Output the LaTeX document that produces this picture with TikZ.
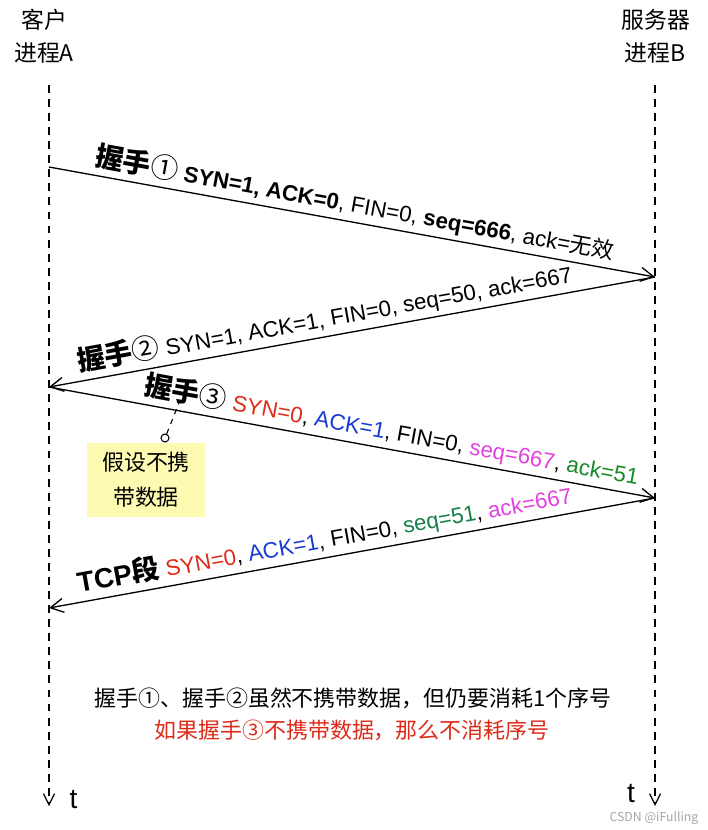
\documentclass[tikz,border=0pt]{standalone}
\usepackage{fontspec}
\setmainfont{Liberation Sans}
\newfontfamily\cjk{Noto Sans CJK SC}
\usetikzlibrary{positioning, arrows.meta}

\definecolor{synred}{RGB}{222,42,24}
\definecolor{ackblue}{RGB}{22,58,212}
\definecolor{seqpink}{RGB}{226,66,222}
\definecolor{ackgreen}{RGB}{22,138,34}
\definecolor{seqgreen}{RGB}{22,128,72}
\definecolor{notefill}{RGB}{253,250,178}

\newcommand{\hsfont}{\cjk\bfseries\fontsize{15.8}{18}\selectfont}
\newcommand{\numfont}{\cjk\mdseries\fontsize{15.8}{18}\selectfont}

\tikzset{
  lifeline/.style={line width=0.7pt, dash pattern=on 4.5pt off 3.5pt, -{Straight Barb[length=2.2mm, width=2.2mm]}},
  msg/.style={line width=0.75pt, -{Straight Barb[length=2.6mm, width=2.8mm]}},
  msglbl/.style={sloped, above, inner sep=2.5pt, font=\fontsize{12.7}{15}\selectfont},
  hdr/.style={font=\cjk\fontsize{13}{17}\selectfont, align=center, inner sep=1pt},
  note/.style={fill=notefill, minimum width=2.36cm, minimum height=1.48cm, align=center, font=\cjk\fontsize{12.5}{20}\selectfont},
}

\begin{document}
\begin{tikzpicture}
\useasboundingbox (0,0) rectangle (14.14,-16.6);

% headers
\node[hdr] (cli) at (0.88,-0.40) {客户};
\node[hdr] (cliP) at (0.88,-1.05) {进程A};
\node[hdr] (srv) at (13.12,-0.40) {服务器};
\node[hdr] (srvP) at (13.10,-1.05) {进程B};

% lifelines
\coordinate (Atop) at (0.98,-1.70);
\coordinate (Abot) at (0.98,-16.12);
\coordinate (Btop) at (13.10,-1.70);
\coordinate (Bbot) at (13.10,-16.12);
\draw[lifeline] (Atop) -- (Abot);
\draw[lifeline] (Btop) -- (Bbot);
\node[font=\fontsize{16}{18}\selectfont] (tA) at (1.47,-16.0) {t};
\node[font=\fontsize{16}{18}\selectfont] (tB) at (12.62,-15.88) {t};

% message points
\coordinate (a1) at (0.98,-3.34);
\coordinate (b1) at (13.10,-5.54);
\coordinate (a2) at (0.98,-7.74);
\coordinate (b2) at (13.10,-9.96);
\coordinate (a3) at (0.98,-12.16);

% handshake 1
\draw[msg] (a1) -- node[msglbl, pos=0.5] {{\hsfont 握手}{\numfont ①} \textbf{SYN=1, ACK=0}, FIN=0, \textbf{seq=666}, ack={\cjk 无效}} (b1);
% handshake 2
\draw[msg] (b1) -- node[msglbl, pos=0.54] {{\hsfont 握手}{\numfont ②} SYN=1, ACK=1, FIN=0, seq=50, ack=667} (a2);
% handshake 3
\draw[msg] (a2) -- node[msglbl, pos=0.56] (hs3) {{\hsfont 握手}{\numfont ③} \textcolor{synred}{SYN=0}, \textcolor{ackblue}{ACK=1}, FIN=0, \textcolor{seqpink}{seq=667}, \textcolor{ackgreen}{ack=51}} (b2);
% data segment
\draw[msg] (b2) -- node[msglbl, pos=0.54] {{\fontsize{15.8}{18}\selectfont\bfseries TCP{\cjk 段}} \textcolor{synred}{SYN=0}, \textcolor{ackblue}{ACK=1}, FIN=0, \textcolor{seqgreen}{seq=51}, \textcolor{seqpink}{ack=667}} (a3);

% note on handshake 3
\node[note] (nb) at (2.92,-9.60) {假设不携\\带数据};
\node[circle, draw, fill=white, inner sep=0pt, minimum size=1.6mm, line width=0.6pt] (pin) at (3.30,-8.76) {};
\coordinate (pinend) at (3.58,-8.06);
\draw[dashed, line width=0.6pt] (pin) -- (pinend);

% summary
\node[font=\cjk\fontsize{12.5}{15}\selectfont] (sum1) at (7.06,-13.96) {握手①、握手②虽然不携带数据，但仍要消耗1个序号};
\node[font=\cjk\fontsize{12.5}{15}\selectfont, text=synred] (sum2) at (7.04,-14.60) {如果握手③不携带数据，那么不消耗序号};

\node[font=\cjk\fontsize{7}{8}\selectfont, text=black!35] (wm) at (13.08,-16.36) {CSDN @iFulling};
\end{tikzpicture}
\end{document}
